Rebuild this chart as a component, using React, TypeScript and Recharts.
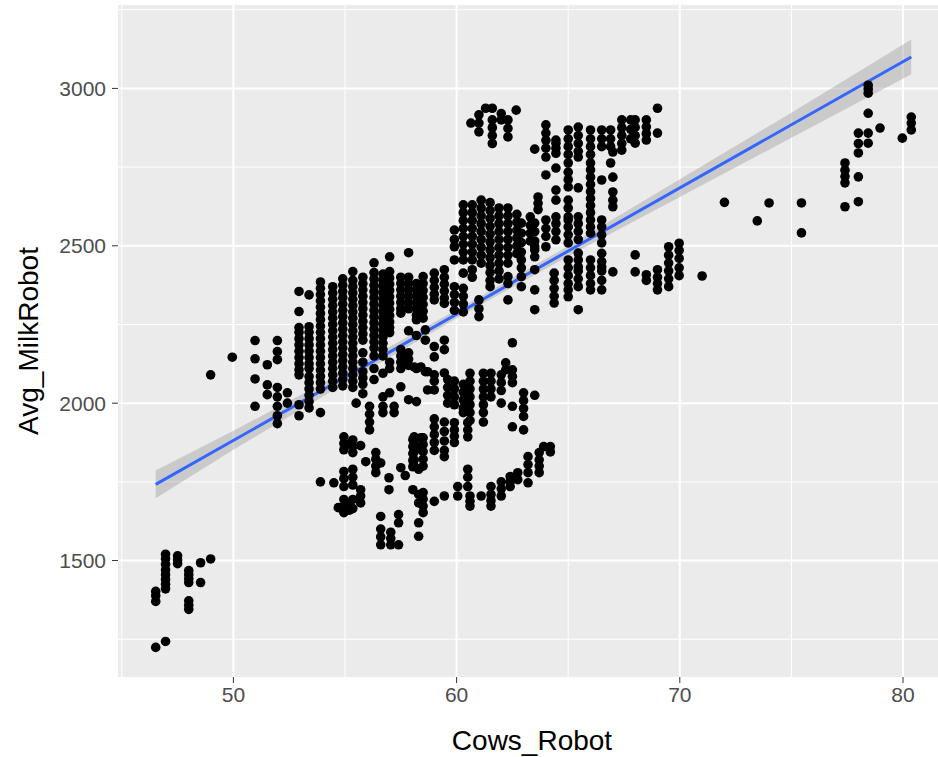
import {
  ComposedChart,
  Scatter,
  Line,
  Area,
  XAxis,
  YAxis,
  CartesianGrid,
  Label,
} from "recharts";

// axis ticks and panel gridlines
const xTicks = [50, 60, 70, 80];
const yTicks = [1500, 2000, 2500, 3000];
const xMinor = [45, 55, 65, 75];
const yMinor = [1250, 1750, 2250, 2750, 3250];

// herds recorded as columns: [Cows_Robot, Avg_MilkRobot values at that herd size]
type Column = [number, number[]];

const lowHerd: Column[] = [
  [46.52, [1224, 1370, 1388, 1402]],
  [46.96, [1243, 1410, 1425, 1440, 1455, 1470, 1488, 1505, 1520]],
  [47.5, [1490, 1502, 1515]],
  [48.0, [1345, 1358, 1372, 1430, 1442, 1455, 1468]],
  [48.53, [1430, 1493]],
  [48.98, [1505, 2090]],
];

const westSparse: Column[] = [
  [49.95, [2146]],
  [50.97, [1990, 2077, 2141, 2199]],
  [51.52, [2027, 2058, 2122]],
  [51.97, [1935, 1960, 1990, 2020, 2050, 2138, 2164, 2199]],
  [52.42, [2000, 2033]],
];

const mainLeft: Column[] = [
  [52.94, [1960, 1995, 2090, 2106, 2125, 2145, 2165, 2185, 2205, 2225, 2240, 2291, 2355]],
  [53.39, [1985, 2005, 2025, 2045, 2065, 2085, 2110, 2125, 2145, 2165, 2185, 2205, 2225, 2243, 2344]],
  [53.9, [1970, 2045, 2065, 2085, 2105, 2125, 2145, 2165, 2185, 2205, 2225, 2245, 2265, 2285, 2305, 2325, 2345, 2365, 2385]],
  [54.45, [2050, 2070, 2090, 2110, 2130, 2150, 2170, 2190, 2210, 2230, 2250, 2270, 2290, 2310, 2330, 2350, 2370]],
  [54.9, [2055, 2075, 2095, 2115, 2135, 2155, 2175, 2195, 2215, 2235, 2255, 2275, 2295, 2315, 2335, 2355, 2375, 2395]],
  [55.35, [2050, 2070, 2090, 2110, 2130, 2150, 2170, 2190, 2210, 2230, 2250, 2270, 2290, 2310, 2330, 2350, 2370, 2390, 2418]],
  [55.8, [2030, 2060, 2080, 2100, 2130, 2160, 2200, 2220, 2240, 2260, 2280, 2300, 2320, 2340, 2360, 2380, 2400]],
  [56.3, [2075, 2110, 2150, 2175, 2195, 2215, 2235, 2255, 2275, 2295, 2315, 2335, 2355, 2375, 2395, 2415, 2446]],
  [56.7, [2020, 2095, 2150, 2170, 2190, 2210, 2230, 2250, 2270, 2290, 2310, 2330, 2350, 2370, 2390, 2410]],
  [57.0, [2033, 2110, 2130, 2224, 2240, 2258, 2278, 2298, 2318, 2338, 2358, 2378, 2398, 2418, 2465]],
  [57.5, [2052, 2110, 2130, 2150, 2170, 2286, 2300, 2320, 2340, 2360, 2380, 2400]],
  [57.85, [2011, 2120, 2140, 2160, 2230, 2300, 2320, 2340, 2360, 2380, 2400, 2478]],
  [58.2, [2005, 2110, 2215, 2265, 2280, 2300, 2320, 2340, 2360, 2380]],
  [58.6, [2100, 2200, 2233]],
];

const lowerBand: Column[] = [
  [53.9, [1750]],
  [54.5, [1747]],
  [54.7, [1668]],
  [54.95, [1652, 1673, 1694, 1735, 1760, 1783, 1852, 1872, 1893]],
  [55.2, [1660, 1680, 1870]],
  [55.35, [1665, 1694, 1740, 1765, 1790, 1843, 1863, 1883]],
  [55.5, [2000]],
  [55.7, [1683, 1705, 1725, 1865]],
  [55.93, [1814]],
  [56.1, [1915, 1940, 1965, 1990]],
  [56.38, [1779, 1800, 1822, 1843]],
  [56.6, [1550, 1575, 1600, 1640, 1810]],
  [56.7, [1970, 1990]],
  [56.97, [1725, 1763]],
  [57.05, [1550, 1570, 1590]],
  [57.2, [1970, 1990]],
  [57.4, [1550, 1620, 1646]],
  [57.5, [1795]],
  [57.7, [1770]],
  [57.8, [2125]],
  [58.04, [1725, 1798, 1818, 1840, 1862, 1884]],
  [58.1, [1800, 1820, 1845, 1870, 1893, 2115]],
  [58.3, [1577, 1620, 1683, 1710, 1790, 1860]],
  [58.4, [1890, 2115]],
  [58.5, [1652, 1673, 1695, 1716, 1800, 1822, 1846, 1868, 1890]],
  [58.7, [2042, 2100]],
  [59.0, [1688, 1850, 1875, 1900, 1925, 1950, 2042, 2070, 2090, 2147]],
  [59.45, [1705, 1830, 1850, 1880, 1910, 1940, 2096]],
  [59.6, [2000, 2025, 2050, 2075]],
  [59.9, [1875, 1895, 1915, 1938, 1995, 2020, 2045, 2070]],
  [60.05, [1705, 1735]],
  [60.3, [1970, 1985, 2010, 2035, 2060]],
  [60.5, [1735, 1765, 1790, 1893, 1915, 1938]],
  [60.6, [1673, 1688, 1705, 1945, 1970, 1995, 2020, 2045, 2070, 2095]],
  [61.1, [1705]],
  [61.2, [1940, 1970, 1995, 2020, 2045, 2070, 2095]],
  [61.54, [1673, 1690, 1710, 1735, 2020, 2045, 2070, 2095]],
  [62.0, [1705, 1728, 1750, 2000, 2040, 2065, 2090]],
  [62.2, [2106, 2128]],
  [62.4, [1735, 1750, 1767]],
  [62.5, [1925, 1990, 2065, 2085, 2106, 2192]],
  [62.74, [1757, 1779]],
  [63.0, [1915, 1958, 1983, 2008, 2033]],
  [63.2, [1747, 1779, 1805, 1830]],
  [63.5, [2025]],
  [63.7, [1779, 1800, 1820, 1843]],
  [63.9, [1862]],
  [64.2, [1845, 1862]],
];

const centerBlob: Column[] = [
  [58.5, [2270, 2292, 2314, 2336, 2358, 2380, 2402]],
  [59.0, [2180, 2328, 2346, 2368, 2390, 2413]],
  [59.45, [2170, 2200, 2317, 2334, 2356, 2378, 2400, 2424]],
  [59.9, [2295, 2320, 2345, 2370, 2455, 2497, 2520, 2550]],
  [60.3, [2290, 2315, 2340, 2365, 2413, 2455, 2480, 2505, 2530, 2555, 2580, 2605, 2630]],
  [60.7, [2400, 2424, 2455, 2480, 2505, 2530, 2555, 2580, 2605, 2630]],
  [61.0, [2275, 2300, 2328]],
  [61.1, [2445, 2470, 2495, 2520, 2545, 2570, 2595, 2620, 2645]],
  [61.5, [2370, 2390, 2415, 2437, 2462, 2487, 2512, 2537, 2562, 2587, 2612, 2637]],
  [61.9, [2395, 2420, 2445, 2470, 2495, 2520, 2545, 2570, 2595, 2620]],
  [62.3, [2328, 2380, 2402, 2445, 2470, 2495, 2520, 2545, 2570, 2595, 2620]],
  [62.7, [2475, 2500, 2525, 2550, 2575, 2600]],
  [62.9, [2370, 2402, 2430, 2455, 2480, 2510, 2540, 2572]],
];

const topCluster: Column[] = [
  [60.64, [2890]],
  [61.0, [2862, 2890, 2916]],
  [61.3, [2937]],
  [61.6, [2825, 2850, 2875, 2900, 2937]],
  [62.0, [2900, 2920]],
  [62.3, [2846, 2873, 2900]],
  [62.67, [2931]],
  [63.3, [2515, 2540, 2565, 2592]],
  [63.5, [2297, 2360, 2424, 2465, 2487, 2497, 2515, 2545, 2572, 2807]],
  [63.65, [2615, 2635, 2655]],
  [64.0, [2497, 2530, 2555, 2582, 2725, 2782, 2810, 2835, 2858, 2884]],
  [64.37, [2318, 2340, 2365, 2390, 2413]],
  [64.45, [2519, 2545, 2570, 2592, 2645, 2677, 2747, 2794, 2810, 2826, 2836]],
  [65.0, [2338, 2360, 2380, 2405, 2430, 2455, 2509, 2535, 2560, 2582, 2592, 2620, 2645, 2687, 2710, 2734, 2763, 2790, 2815, 2840, 2868]],
  [65.45, [2297, 2370, 2395, 2420, 2433, 2455, 2477, 2520, 2545, 2570, 2592, 2684, 2782, 2800, 2825, 2850, 2877]],
  [66.0, [2360, 2380, 2405, 2430, 2455, 2540, 2560, 2582, 2605, 2628, 2650, 2672, 2695, 2718, 2741, 2763, 2790, 2815, 2840, 2868]],
  [66.5, [2360, 2390, 2420, 2433, 2450, 2476, 2509, 2535, 2560, 2582, 2709, 2815, 2840, 2868]],
  [66.9, [2763, 2815, 2840, 2868]],
  [67.0, [2417, 2624, 2645, 2671, 2718, 2798]],
  [67.4, [2804, 2825, 2850, 2875, 2900]],
  [67.8, [2840, 2870, 2900]],
  [68.0, [2417, 2471, 2826, 2850, 2876, 2900]],
  [68.5, [2390, 2408, 2836, 2856, 2878, 2900]],
  [69.0, [2360, 2380, 2400, 2424, 2858, 2937]],
  [69.5, [2370, 2395, 2420, 2445, 2470, 2497]],
  [69.97, [2405, 2430, 2460, 2485, 2508]],
  [71.0, [2404]],
];

const eastHerds: Column[] = [
  [72.0, [2638]],
  [73.47, [2579]],
  [74.0, [2636]],
  [75.45, [2541, 2636]],
  [77.4, [2624, 2700, 2720, 2740, 2763]],
  [78.0, [2640, 2719, 2795, 2825, 2858]],
  [78.44, [2826, 2858, 2921, 2985, 2998, 3010]],
  [78.97, [2874]],
  [79.97, [2842]],
  [80.37, [2868, 2890, 2909]],
];

// lm fit and its 95% band
const fitX = [46.52, 80.37];
const fitY = [1742, 3100];
const bandX = [46.52, 50, 55, 60, 65, 70, 75, 80.37];
const bandLow = [1698, 1852, 2063, 2270, 2467, 2655, 2843, 3045];
const bandHigh = [1786, 1912, 2101, 2296, 2499, 2711, 2923, 3155];

const points = [lowHerd, westSparse, mainLeft, lowerBand, centerBlob, topCluster, eastHerds]
  .flat()
  .flatMap(([x, ys]) => ys.map((y) => ({ x, y })));
const fitLine = fitX.map((x, i) => ({ x, y: fitY[i] }));
const band = bandX.map((x, i) => ({ x, band: [bandLow[i], bandHigh[i]] }));

const tickStyle = { fill: "#4D4D4D", fontSize: 21 };

export default function App() {
  return (
    <div
      style={{
        position: "absolute",
        left: 0,
        top: 0,
        width: 938,
        height: 757,
        overflow: "hidden",
        background: "#fff",
        fontFamily: '"Liberation Sans", Arial, sans-serif',
      }}
    >
      <ComposedChart width={950} height={757} margin={{ top: 5, right: 1, bottom: 0, left: 0 }}>
        <CartesianGrid
          fill="#EBEBEB"
          stroke="#FFFFFF"
          strokeWidth={1}
          horizontalValues={yMinor}
          verticalValues={xMinor}
        />
        <CartesianGrid
          stroke="#FFFFFF"
          strokeWidth={2}
          horizontalValues={yTicks}
          verticalValues={xTicks}
        />
        <XAxis
          type="number"
          dataKey="x"
          domain={[44.83, 82.06]}
          ticks={xTicks}
          allowDataOverflow
          height={80}
          axisLine={false}
          tickLine={{ stroke: "#333333" }}
          tickSize={6}
          tickMargin={4}
          tick={tickStyle}
        >
          <Label
            content={() => (
              <text x={532} y={740} textAnchor="middle" dominantBaseline="central" fontSize={28} fill="#000">
                Cows_Robot
              </text>
            )}
          />
        </XAxis>
        <YAxis
          type="number"
          dataKey="y"
          domain={[1130, 3265]}
          ticks={yTicks}
          allowDataOverflow
          width={118}
          axisLine={false}
          tickLine={{ stroke: "#333333" }}
          tickSize={6}
          tickMargin={6}
          tick={tickStyle}
        >
          <Label
            content={() => (
              <text
                x={28}
                y={341}
                transform="rotate(-90 28 341)"
                textAnchor="middle"
                dominantBaseline="central"
                fontSize={28}
                fill="#000"
              >
                Avg_MilkRobot
              </text>
            )}
          />
        </YAxis>
        <Scatter
          data={points}
          isAnimationActive={false}
          shape={(p: any) => <circle cx={p.cx} cy={p.cy} r={4.8} fill="#000000" />}
        />
        <Area
          data={band}
          dataKey="band"
          type="linear"
          stroke="none"
          fill="#999999"
          fillOpacity={0.4}
          isAnimationActive={false}
        />
        <Line
          data={fitLine}
          dataKey="y"
          type="linear"
          stroke="#3366FF"
          strokeWidth={3}
          dot={false}
          isAnimationActive={false}
        />
      </ComposedChart>
    </div>
  );
}
